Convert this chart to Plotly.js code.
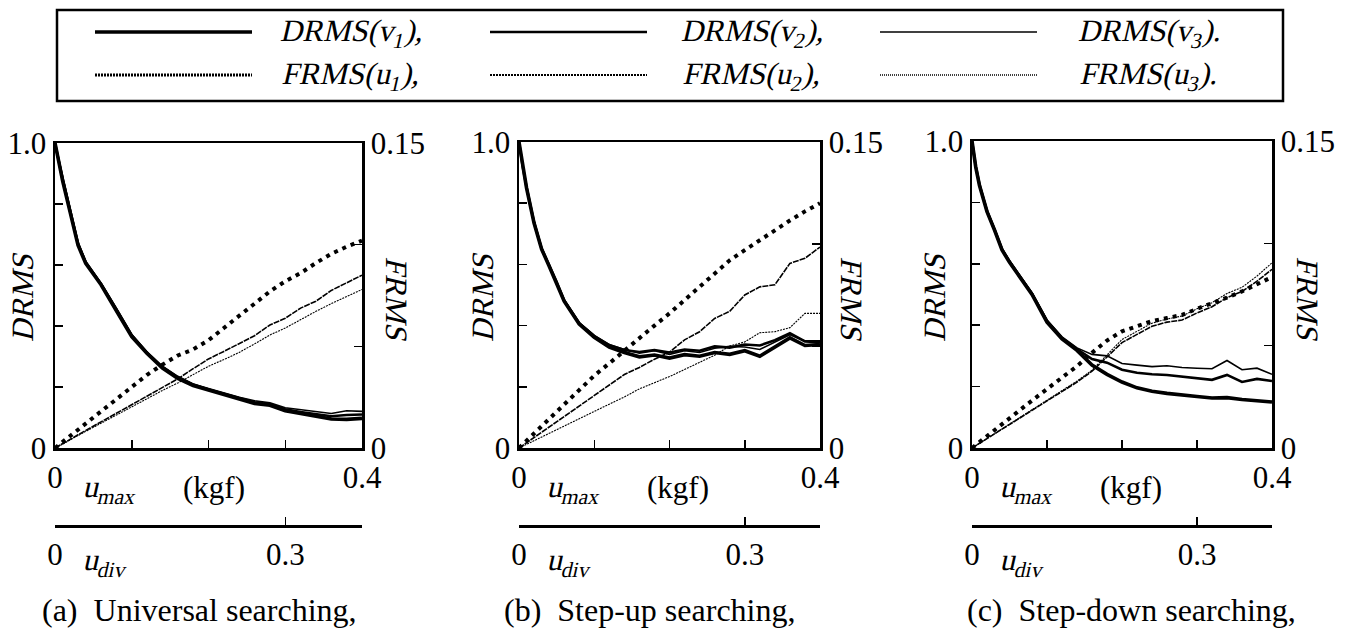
<!DOCTYPE html>
<html>
<head>
<meta charset="utf-8">
<script src="https://cdn.plot.ly/plotly-3.0.1.min.js"></script>
<style>
  html, body { margin: 0; padding: 0; background: #fff; }
  #chart { width: 1355px; height: 631px; }
  svg text { font-family: "Liberation Serif", "Times New Roman", serif !important; }
</style>
</head>
<body>
<div id="chart"></div>
<script>
// u_max sample points (kgf)
const U = [0, 0.005, 0.01, 0.02, 0.03, 0.04, 0.05, 0.06, 0.08, 0.10, 0.12, 0.14, 0.16, 0.18,
           0.20, 0.22, 0.24, 0.26, 0.28, 0.30, 0.32, 0.34, 0.36, 0.38, 0.40];

// (a) Universal searching
const drmsA_v1 = [1.0,0.935,0.875,0.77,0.665,0.605,0.57,0.535,0.45,0.365,0.31,0.262,0.228,0.205,0.19,0.175,0.158,0.146,0.14,0.122,0.113,0.104,0.095,0.094,0.097];
const drmsA_v2 = [1.0,0.94,0.88,0.775,0.67,0.61,0.573,0.538,0.455,0.37,0.312,0.265,0.232,0.208,0.192,0.178,0.162,0.15,0.143,0.127,0.118,0.11,0.104,0.108,0.11];
const drmsA_v3 = [1.0,0.945,0.885,0.78,0.675,0.612,0.575,0.54,0.458,0.372,0.315,0.268,0.235,0.21,0.195,0.181,0.166,0.155,0.148,0.132,0.126,0.119,0.113,0.122,0.12];
const frmsA_u1 = [0,0.0015,0.003,0.0058,0.0085,0.012,0.015,0.018,0.024,0.030,0.036,0.041,0.0455,0.0485,0.053,0.059,0.065,0.071,0.077,0.082,0.086,0.091,0.0955,0.099,0.102];
const frmsA_u2 = [0,0.001,0.002,0.0043,0.0065,0.0086,0.0107,0.0128,0.017,0.0213,0.0255,0.0298,0.034,0.039,0.0438,0.0475,0.0512,0.0552,0.0605,0.0638,0.0688,0.0722,0.0775,0.0812,0.085];
const frmsA_u3 = [0,0.0009,0.0019,0.0041,0.0062,0.0082,0.0102,0.0122,0.0162,0.0203,0.0243,0.0283,0.032,0.036,0.0402,0.0435,0.047,0.0512,0.0556,0.059,0.0632,0.0672,0.071,0.0745,0.078];

// (b) Step-up searching
const drmsB_v1 = [1.0,0.915,0.85,0.735,0.65,0.595,0.54,0.48,0.405,0.362,0.33,0.312,0.298,0.304,0.294,0.305,0.3,0.312,0.306,0.318,0.3,0.33,0.36,0.335,0.338];
const drmsB_v2 = [1.0,0.918,0.853,0.738,0.652,0.598,0.543,0.483,0.408,0.366,0.336,0.32,0.314,0.32,0.312,0.322,0.318,0.332,0.328,0.338,0.335,0.352,0.375,0.348,0.346];
const drmsB_v3 = [1.0,0.92,0.856,0.74,0.655,0.6,0.545,0.485,0.41,0.368,0.338,0.322,0.31,0.318,0.306,0.318,0.312,0.326,0.332,0.33,0.322,0.345,0.37,0.35,0.35];
const frmsB_u1 = [0,0.0018,0.0035,0.007,0.0105,0.014,0.0176,0.0212,0.0284,0.0355,0.0415,0.0478,0.054,0.06,0.066,0.0725,0.079,0.086,0.092,0.097,0.102,0.107,0.1115,0.116,0.12];
const frmsB_u2 = [0,0.0013,0.0026,0.0052,0.0078,0.0104,0.013,0.0156,0.0208,0.026,0.031,0.036,0.0395,0.0435,0.047,0.053,0.057,0.0635,0.067,0.075,0.079,0.08,0.0905,0.093,0.0985];
const frmsB_u3 = [0,0.0009,0.0018,0.0036,0.0054,0.0072,0.009,0.011,0.0145,0.018,0.0215,0.025,0.029,0.032,0.035,0.0385,0.042,0.0455,0.05,0.052,0.0565,0.057,0.059,0.066,0.066];

// (c) Step-down searching
const drmsC_v1 = [1.0,0.915,0.855,0.77,0.71,0.645,0.605,0.57,0.5,0.41,0.355,0.318,0.27,0.24,0.215,0.196,0.185,0.178,0.172,0.168,0.163,0.164,0.158,0.155,0.15];
const drmsC_v2 = [1.0,0.918,0.858,0.772,0.712,0.648,0.608,0.573,0.503,0.414,0.358,0.322,0.29,0.278,0.255,0.245,0.24,0.238,0.232,0.228,0.222,0.238,0.215,0.225,0.218];
const drmsC_v3 = [1.0,0.92,0.86,0.775,0.715,0.65,0.61,0.575,0.506,0.417,0.362,0.326,0.305,0.3,0.275,0.27,0.265,0.268,0.262,0.26,0.258,0.285,0.255,0.26,0.24];
const frmsC_u1 = [0,0.0015,0.0029,0.0058,0.0087,0.0116,0.0145,0.0174,0.0232,0.029,0.0345,0.040,0.0465,0.0525,0.057,0.0595,0.062,0.0635,0.065,0.068,0.0705,0.0735,0.0765,0.08,0.0835];
const frmsC_u2 = [0,0.0012,0.0023,0.0046,0.0069,0.0092,0.0115,0.0138,0.0184,0.023,0.0276,0.0322,0.0375,0.0445,0.0515,0.0555,0.0595,0.0615,0.0625,0.066,0.069,0.0735,0.0765,0.0815,0.0873];
const frmsC_u3 = [0,0.0012,0.0024,0.0047,0.007,0.0094,0.0117,0.014,0.0187,0.0234,0.028,0.0327,0.038,0.0455,0.053,0.057,0.061,0.063,0.0645,0.068,0.071,0.0755,0.0785,0.084,0.0905];

// labelled ticks and their texts
const umaxTicks = [0, 0.4];
const umaxText  = ['0', '0.4'];
const drmsTicks = [0, 1.0];
const drmsText  = ['0', '1.0'];
const frmsTicks = [0, 0.15];
const frmsText  = ['0', '0.15'];
const udivTicks = [0, 0.3];
const udivText  = ['0', '0.3'];
const captions  = ['(a)  Universal searching,', '(b)  Step-up searching,', '(c)  Step-down searching,'];
const legendDRMS = ['<i>DRMS</i>(<i>v</i><sub>1</sub>),', '<i>DRMS</i>(<i>v</i><sub>2</sub>),', '<i>DRMS</i>(<i>v</i><sub>3</sub>).'];
const legendFRMS = ['<i>FRMS</i>(<i>u</i><sub>1</sub>),', '<i>FRMS</i>(<i>u</i><sub>2</sub>),', '<i>FRMS</i>(<i>u</i><sub>3</sub>).'];

// ---------------------------------------------------------------
const W = 1355, H = 631;
const fx = p => p / W;
const fy = p => 1 - p / H;
const FONT = 'Liberation Serif';
const FS = 31;

// plot boxes in pixels: [left, right, top, bottom]
const boxes = [[55, 362, 143, 448], [519, 820, 142, 448], [972, 1272, 141, 448]];
const udivY = 526;

const vWidths = [3.6, 2.6, 1.6];
const uStyles = [
  { width: 4, dash: '4px,5px' },
  { width: 1.6, dash: '6px,1px' },
  { width: 1.1, dash: '2px,1px' }
];
const legDots = [
  { width: 3, dash: '2px,1px' },
  { width: 2.2, dash: '2px,1px' },
  { width: 1.5, dash: '1px,1px' }
];

const panels = [
  { d: [drmsA_v1, drmsA_v2, drmsA_v3], f: [frmsA_u1, frmsA_u2, frmsA_u3] },
  { d: [drmsB_v1, drmsB_v2, drmsB_v3], f: [frmsB_u1, frmsB_u2, frmsB_u3] },
  { d: [drmsC_v1, drmsC_v2, drmsC_v3], f: [frmsC_u1, frmsC_u2, frmsC_u3] }
];

const traces = [];
const layout = {
  width: W, height: H,
  margin: { l: 0, r: 0, t: 0, b: 0 },
  paper_bgcolor: '#fff', plot_bgcolor: 'rgba(0,0,0,0)',
  showlegend: false,
  font: { family: FONT, size: FS, color: '#000' },
  shapes: [], annotations: []
};

function ann(x, y, text, extra) {
  layout.annotations.push(Object.assign({
    xref: 'paper', yref: 'paper', x: fx(x), y: fy(y), text: text,
    showarrow: false, xanchor: 'center', yanchor: 'middle',
    font: { family: FONT, size: FS, color: '#000' }
  }, extra || {}));
}

const common = {
  showgrid: false, zeroline: false, showline: true, linecolor: '#000',
  ticks: 'inside', tickcolor: '#000', tickwidth: 1.5, ticklen: 8,
  tickmode: 'array', fixedrange: true,
  tickfont: { family: FONT, size: FS, color: '#000' }
};
const minor = d => ({ tickmode: 'linear', tick0: 0, dtick: d, ticks: 'inside',
  ticklen: 8, tickwidth: 1.5, tickcolor: '#000', showgrid: false });

panels.forEach((p, i) => {
  const [L, R, T, B] = boxes[i];
  const xi = i + 1;               // main x axis index
  const yl = 2 * i + 1;           // DRMS axis index
  const yr = 2 * i + 2;           // FRMS axis index
  const xd = i + 4;               // u_div axis index
  const xn = xi === 1 ? 'x' : 'x' + xi;
  const yln = yl === 1 ? 'y' : 'y' + yl;
  const yrn = 'y' + yr;
  const xdn = 'x' + xd;

  p.d.forEach((vals, k) => traces.push({
    x: U, y: vals, xaxis: xn, yaxis: yln, type: 'scatter', mode: 'lines',
    line: { color: '#000', width: vWidths[k] }
  }));
  p.f.forEach((vals, k) => traces.push({
    x: U, y: vals, xaxis: xn, yaxis: yrn, type: 'scatter', mode: 'lines',
    line: { color: '#000', width: uStyles[k].width, dash: uStyles[k].dash }
  }));
  // carrier so the u_div axis gets drawn
  traces.push({ x: [0], y: [0], xaxis: xdn, yaxis: yln, type: 'scatter', mode: 'lines',
    opacity: 0 });

  layout['xaxis' + (xi === 1 ? '' : xi)] = Object.assign({}, common, {
    domain: [fx(L), fx(R)], range: [0, 0.4], anchor: yln, mirror: true, linewidth: 2.5,
    tickvals: umaxTicks, ticktext: umaxText, minor: minor(0.1)
  });
  layout['yaxis' + (yl === 1 ? '' : yl)] = Object.assign({}, common, {
    domain: [fy(B), fy(T)], range: [0, 1], anchor: xn, linewidth: 2.5,
    tickvals: drmsTicks, ticktext: drmsText, minor: minor(0.2)
  });
  layout['yaxis' + yr] = Object.assign({}, common, {
    domain: [fy(B), fy(T)], range: [0, 0.15], anchor: xn, overlaying: yln, side: 'right',
    linewidth: 2.5, tickvals: frmsTicks, ticktext: frmsText, minor: minor(0.05)
  });
  layout['xaxis' + xd] = Object.assign({}, common, {
    domain: [fx(L), fx(R)], range: [0, 0.4], anchor: 'free', position: fy(udivY),
    overlaying: xn, side: 'bottom', linewidth: 3,
    tickvals: udivTicks, ticktext: udivText
  });

  // axis titles and unit labels
  const dx = [22, 482, 934][i];
  const fxp = [397, 852, 1308][i];
  ann(dx, 296, '<i>DRMS</i>', { textangle: -90 });
  ann(fxp, 300, '<i>FRMS</i>', { textangle: 90 });
  ann(L + 28, 489, '<i>u<sub>max</sub></i>', { xanchor: 'left' });
  ann(L + 126, 487, '(kgf)', { xanchor: 'left' });
  ann(L + 28, 562, '<i>u<sub>div</sub></i>', { xanchor: 'left' });
  ann([199, 649, 1131][i], 610, captions[i], { font: { family: FONT, size: 32, color: '#000' } });
});

// legend panel
layout.shapes.push({ type: 'rect', xref: 'paper', yref: 'paper',
  x0: fx(57), x1: fx(1283), y0: fy(101), y1: fy(10),
  line: { color: '#000', width: 2.5 }, fillcolor: 'rgba(0,0,0,0)' });
const legCols = [95, 490, 880];
const legText = [282, 683, 1080];
for (let k = 0; k < 3; k++) {
  layout.shapes.push({ type: 'line', xref: 'paper', yref: 'paper',
    x0: fx(legCols[k]), x1: fx(legCols[k] + 157), y0: fy(32), y1: fy(32),
    line: { color: '#000', width: vWidths[k] } });
  layout.shapes.push({ type: 'line', xref: 'paper', yref: 'paper',
    x0: fx(legCols[k]), x1: fx(legCols[k] + 157), y0: fy(75), y1: fy(75),
    line: { color: '#000', width: legDots[k].width, dash: legDots[k].dash } });
  ann(legText[k], 33, legendDRMS[k], { xanchor: 'left' });
  ann(legText[k], 76, legendFRMS[k], { xanchor: 'left' });
}

Plotly.newPlot('chart', traces, layout, { staticPlot: true, displayModeBar: false }).then(gd => {
  // the serif face has no italic installed: slant the italic labels instead
  gd.querySelectorAll('text.annotation-text').forEach(t => {
    let slanted = false;
    t.querySelectorAll('tspan').forEach(s => {
      if ((s.getAttribute('style') || '').indexOf('italic') >= 0) {
        s.style.fontStyle = 'normal';
        slanted = true;
      }
    });
    if (slanted) {
      t.style.transformBox = 'fill-box';
      t.style.transformOrigin = 'center';
      t.style.transform = 'skewX(-13deg)';
    }
  });
});
</script>
</body>
</html>
